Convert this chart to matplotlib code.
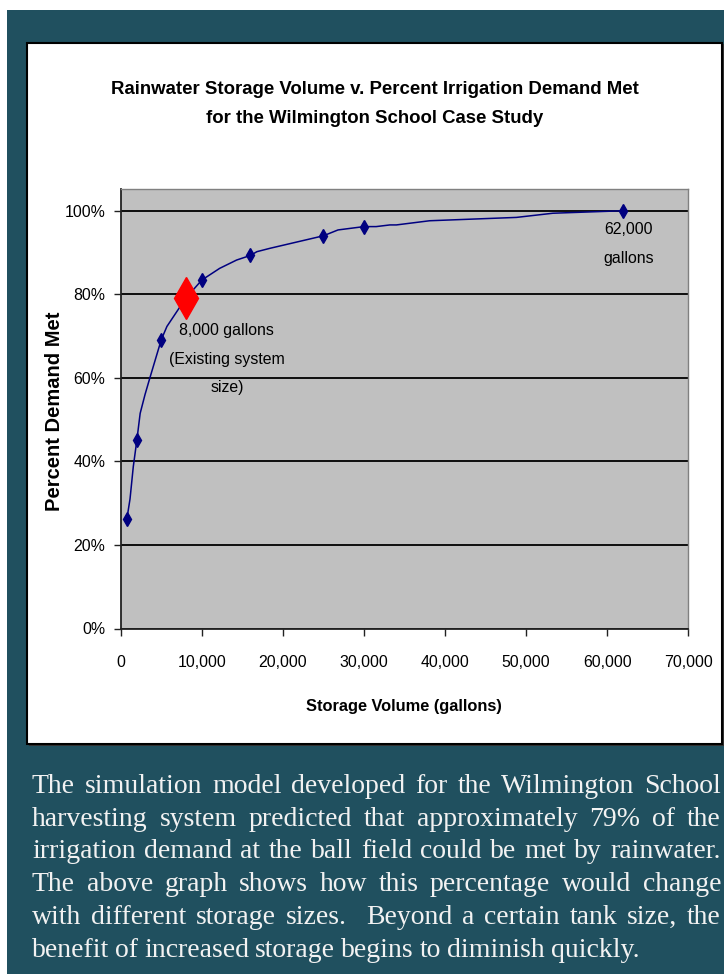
import matplotlib
matplotlib.use("Agg")
import matplotlib.pyplot as plt
from matplotlib import font_manager as fm
from matplotlib.patches import Rectangle
from matplotlib.ticker import FuncFormatter, MultipleLocator

# simulation curve (gallons, percent of demand met)
curve_gal = [750, 1150, 1550, 2000, 2400, 3000, 3600, 5000, 5700, 8000, 10000,
             12200, 14300, 16000, 16800, 18400, 25000, 26800, 30000, 31500,
             33200, 34000, 38100, 48800, 53300, 62000]
curve_pct = [26.1, 31.0, 38.7, 45.2, 51.5, 56.0, 60.0, 69.1, 72.3, 79.0, 83.4,
             86.2, 88.2, 89.3, 90.2, 91.0, 94.0, 95.4, 96.2, 96.2,
             96.6, 96.6, 97.6, 98.4, 99.4, 100.0]

# marked points
marker_gal = [750, 2000, 5000, 10000, 16000, 25000, 30000, 62000]
marker_pct = [26.1, 45.2, 69.1, 83.4, 89.3, 94.0, 96.2, 100.0]
existing_gal = 8000
existing_pct = 79.0

title = ("Rainwater Storage Volume v. Percent Irrigation Demand Met\n"
         "for the Wilmington School Case Study")
xlabel = "Storage Volume (gallons)"
ylabel = "Percent Demand Met"
note_existing = "8,000 gallons\n(Existing system\nsize)"
note_max = "62,000\ngallons"

body_lines = [
    "The simulation model developed for the Wilmington School",
    "harvesting system predicted that approximately 79% of the",
    "irrigation demand at the ball field could be met by rainwater.",
    "The above graph shows how this percentage would change",
    "with different storage sizes.  Beyond a certain tank size, the",
    "benefit of increased storage begins to diminish quickly.",
]

names = {f.name for f in fm.fontManager.ttflist}
if "Liberation Sans Narrow" in names:
    narrow, k = "Liberation Sans Narrow", 1.0
else:
    narrow, k = "Liberation Sans", 0.88

W, H = 724, 974
fig = plt.figure(figsize=(W / 100, H / 100), dpi=100)
fig.patch.set_facecolor("white")

teal = "#20505f"
fig.patches.append(Rectangle((7 / W, 0), 1, 1 - 10 / H, transform=fig.transFigure,
                             facecolor=teal, edgecolor="none", zorder=0))
# white chart panel with a dark edge
fig.patches.append(Rectangle((29 / W, 1 - 746 / H), 695 / W, 702 / H, transform=fig.transFigure,
                             facecolor="#333333", edgecolor="none", zorder=1))
fig.patches.append(Rectangle((27 / W, 1 - 744 / H), 695 / W, 701 / H, transform=fig.transFigure,
                             facecolor="white", edgecolor="black", linewidth=1.5, zorder=2))

ax = fig.add_axes([120.7 / W, 1 - 628.5 / H, (688.3 - 120.7) / W, (628.5 - 189) / H])
ax.set_zorder(3)
ax.set_facecolor("#c0c0c0")
ax.set_xlim(0, 70000)
ax.set_ylim(0, 105.2)
ax.xaxis.set_major_locator(MultipleLocator(10000))
ax.yaxis.set_major_locator(MultipleLocator(20))
ax.xaxis.set_major_formatter(FuncFormatter(lambda v, p: f"{int(v):,}"))
ax.yaxis.set_major_formatter(FuncFormatter(lambda v, p: f"{int(v)}%"))
ax.yaxis.grid(True, color="black", linewidth=1.3)
ax.set_axisbelow(True)
for s in ["top", "right"]:
    ax.spines[s].set_color("#808080")
    ax.spines[s].set_linewidth(1)
for s in ["left", "bottom"]:
    ax.spines[s].set_color("#222222")
    ax.spines[s].set_linewidth(1.3)
ax.tick_params(direction="out", length=5, width=1, color="#222222",
               labelsize=13 * k, labelfontfamily=narrow)
ax.tick_params(axis="x", pad=14)
ax.tick_params(axis="y", pad=6)

ax.plot(curve_gal, curve_pct, color="#000080", linewidth=1.1, zorder=3)
ax.plot(marker_gal, marker_pct, linestyle="none", marker="d", markersize=7.5,
        color="#000080", zorder=4)
ax.plot([existing_gal], [existing_pct], linestyle="none", marker="d", markersize=21,
        color="#ff0000", zorder=5)

ax.text(13100, 64.5, note_existing, ha="center", va="center", fontsize=13 * k,
        family=narrow, linespacing=2.1)
ax.text(62600, 92.0, note_max, ha="center", va="center", fontsize=13 * k,
        family=narrow, linespacing=2.2)

fig.text(375 / W, 1 - 104 / H, title, ha="center", va="center", fontsize=15.5 * 0.865,
         family=narrow, weight="bold", linespacing=1.9)
fig.text(404 / W, 1 - 706 / H, xlabel, ha="center", va="center", fontsize=14 * 0.84,
         family=narrow, weight="bold")
fig.text(55 / W, 1 - 411 / H, ylabel, ha="center", va="center", rotation=90,
         fontsize=14.5, family="Liberation Sans", weight="bold")

# justified body text on the teal background
fig.canvas.draw()
r = fig.canvas.get_renderer()
left, right = 32, 721
baselines = [793, 826, 858.5, 891, 924, 957]
for i, line in enumerate(body_lines):
    words = line.split(" ")
    ts = [fig.text(0, 1 - baselines[i] / H, w, color="#f2f2f2", fontsize=20,
                   family="Liberation Serif", va="baseline") for w in words]
    widths = [t.get_window_extent(r).width for t in ts]
    if i < len(body_lines) - 1:
        gap = (right - left - sum(widths)) / (len(words) - 1)
    else:
        gap = 6
    x = left
    for t, w in zip(ts, widths):
        t.set_x(x / W)
        x += w + gap

fig.savefig("out.png", dpi=100, facecolor=fig.get_facecolor())
